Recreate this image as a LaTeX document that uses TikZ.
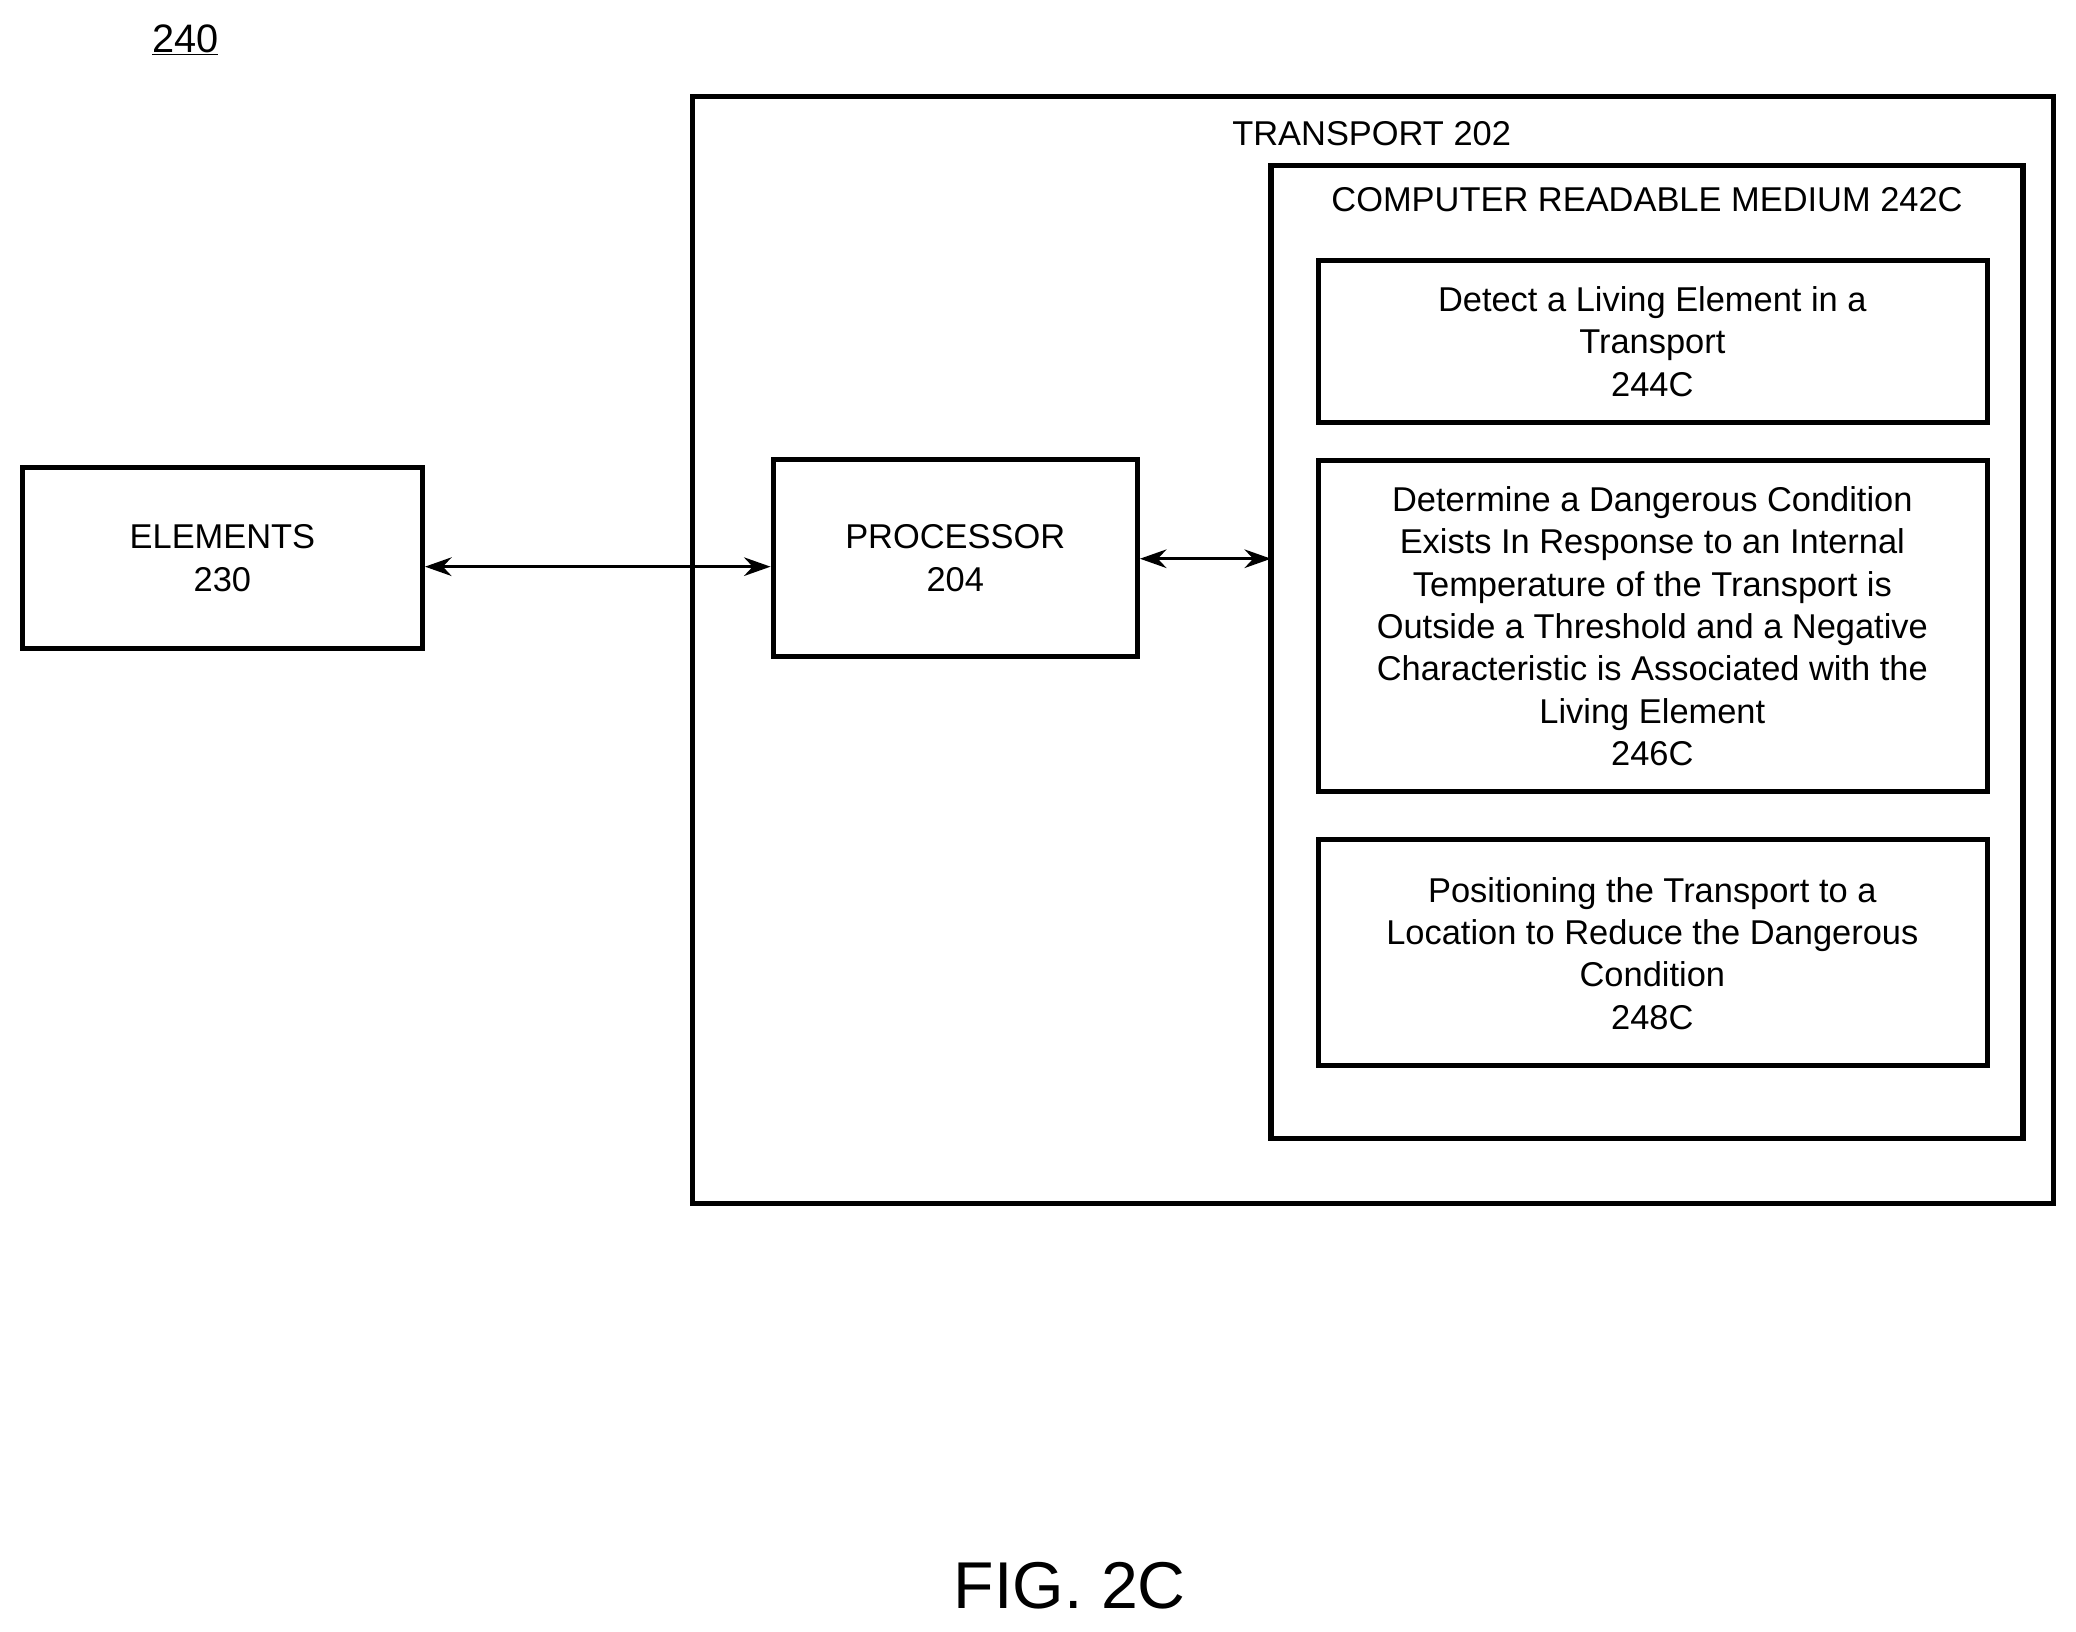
\documentclass[tikz,border=0pt]{standalone}
\usepackage{fontspec}
\setmainfont{Liberation Sans}
\usetikzlibrary{arrows.meta}
\begin{document}
\begin{tikzpicture}[x=1pt,y=-1pt,
  box/.style={draw,line width=4pt},
  txt/.style={align=center,font=\fontsize{26}{32}\selectfont,inner sep=0pt},
  arr/.style={line width=2.5pt,{Stealth[length=20pt,width=14pt]}-{Stealth[length=20pt,width=14pt]}}]
\useasboundingbox (0,0) rectangle (1568,1232);
\node[font=\fontsize{30}{36}\selectfont,inner sep=0pt] (fig) at (140,30) {\underline{240}};
\draw[box] (523,73) rectangle (1551,909);
\node[txt] (tl) at (1036,101) {TRANSPORT 202};
\draw[box] (960,125) rectangle (1528,860);
\coordinate (crmL) at (960,422);
\node[txt] (cl) at (1244,151) {COMPUTER READABLE MEDIUM 242C};
\draw[box] (996,197) rectangle (1501,319);
\node[txt] (a) at (1248,258) {Detect a Living Element in a\\Transport\\244C};
\draw[box] (996,348) rectangle (1501,598);
\node[txt] (b) at (1248,473) {Determine a Dangerous Condition\\Exists In Response to an Internal\\Temperature of the Transport is\\Outside a Threshold and a Negative\\Characteristic is Associated with the\\Living Element\\246C};
\draw[box] (996,634) rectangle (1501,805);
\node[txt] (c) at (1248,720) {Positioning the Transport to a\\Location to Reduce the Dangerous\\Condition\\248C};
\node[box,minimum width=302pt,minimum height=137pt,txt] (el) at (168,421.5) {ELEMENTS\\230};
\node[box,minimum width=275pt,minimum height=149pt,txt] (pr) at (721.5,421.5) {PROCESSOR\\204};
\draw[arr] (el.east |- 0,428) -- (pr.west |- 0,428);
\draw[arr] (pr.east |- crmL) -- (crmL);
\node[font=\fontsize{50}{60}\selectfont,inner sep=0pt] (f) at (808,1198) {FIG. 2C};
\end{tikzpicture}
\end{document}
